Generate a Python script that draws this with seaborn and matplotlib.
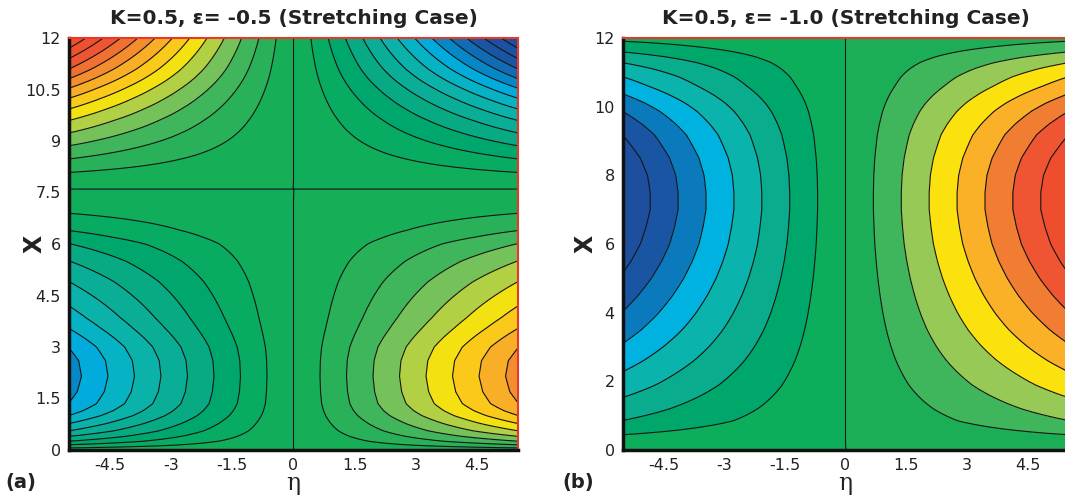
import numpy as np
import matplotlib
matplotlib.use("Agg")
import matplotlib.pyplot as plt
import seaborn as sns
from matplotlib.colors import LinearSegmentedColormap
from matplotlib.ticker import MultipleLocator

# ---------------- data ----------------
# Panel (a): K=0.5, eps=-0.5 -- amplitude profile along X (contour-level units per unit eta)
x_a = [0.0, 0.06, 0.15, 0.26, 0.4, 0.56, 0.77, 1.0, 1.15, 1.35, 1.7, 2.15, 2.6, 3.0,
       3.25, 3.55, 3.85, 4.2, 4.55, 4.9, 5.2, 5.5, 5.75, 6.0, 6.2, 6.4, 6.65, 6.9,
       7.25, 7.6, 7.85, 8.08, 8.47, 8.87, 9.24, 9.6, 9.93, 10.24, 10.53, 10.82,
       11.1, 11.4, 11.7, 12.0]
amp_a = [0.0, 0.18, 0.36, 0.55, 0.73, 0.91, 1.09, 1.27, 1.36, 1.45, 1.51, 1.54, 1.52,
         1.45, 1.37, 1.27, 1.18, 1.09, 1.0, 0.91, 0.82, 0.73, 0.64, 0.55, 0.45, 0.36,
         0.27, 0.18, 0.08, 0.0, -0.09, -0.18, -0.36, -0.55, -0.73, -0.91, -1.09,
         -1.27, -1.45, -1.64, -1.82, -2.0, -2.18, -2.36]
levels_a = list(range(-13, 14))

# Panel (b): K=0.5, eps=-1.0
x_b = [0.0, 0.2, 0.44, 0.85, 1.2, 1.53, 1.9, 2.21, 2.6, 3.04, 3.5, 3.98, 4.5, 5.0,
       5.5, 6.0, 6.5, 7.0, 7.5, 8.0, 8.5, 9.0, 9.18, 9.5, 9.86, 10.1, 10.37, 10.6,
       10.87, 11.1, 11.28, 11.45, 11.6, 11.75, 11.91, 12.0]
amp_b = [0.0, 0.09, 0.18, 0.36, 0.46, 0.545, 0.64, 0.71, 0.8, 0.895, 0.99, 1.08,
         1.17, 1.25, 1.32, 1.38, 1.42, 1.45, 1.45, 1.43, 1.38, 1.3, 1.27, 1.19, 1.09,
         1.01, 0.909, 0.82, 0.727, 0.63, 0.545, 0.45, 0.36, 0.27, 0.18, 0.08]
levels_b = list(range(-8, 9))

eta_range = (-5.5, 5.5)
xticks = [-4.5, -3, -1.5, 0, 1.5, 3, 4.5]
yticks_a = [0, 1.5, 3, 4.5, 6, 7.5, 9, 10.5, 12]
yticks_b = [0, 2, 4, 6, 8, 10, 12]
titles = ["K=0.5, \u03b5= -0.5 (Stretching Case)", "K=0.5, \u03b5= -1.0 (Stretching Case)"]
panel_tags = ["(a)", "(b)"]

# Tecplot-like band colours
band_colors = ["#1d4f9e", "#1a55a3", "#0a79bd", "#00b2e0", "#0ab3ab", "#0aac8f",
               "#00a76b", "#0dae5b", "#1aae57", "#3cb55b", "#92c859", "#fbe30c",
               "#fab426", "#f07f31", "#ef5532", "#ee4e2e"]

# ---------------- style ----------------
sns.set_style("ticks")
plt.rcParams["font.family"] = ["DejaVu Sans"]
plt.rcParams["axes.unicode_minus"] = False

pos = [(i + 0.5) / len(band_colors) for i in range(len(band_colors))]
cmap = LinearSegmentedColormap.from_list(
    "tec", [(0.0, band_colors[0])] + list(zip(pos, band_colors)) + [(1.0, band_colors[-1])])

W, H = 1065, 496
fig = plt.figure(figsize=(W / 100, H / 100), dpi=100)
ax_a = fig.add_axes([69 / W, 46 / H, 449 / W, 412 / H])
ax_b = fig.add_axes([623 / W, 46 / H, 445 / W, 412 / H])

eta = np.linspace(eta_range[0], eta_range[1], 600)

def draw(ax, xs, amp, levels, yticks, yminor, title, tag, right_spine, tag_x, ylab_x):
    field = np.outer(np.asarray(amp), eta)
    ax.contourf(eta, xs, field, levels=levels, cmap=cmap, extend="both",
                vmin=levels[0], vmax=levels[-1])
    ax.contour(eta, xs, field, levels=levels[1:-1], colors="#151515",
               linewidths=0.8, linestyles="solid")
    ax.set_xlim(*eta_range)
    ax.set_ylim(0, 12)
    ax.set_xticks(xticks)
    ax.set_xticklabels([f"{v:g}" for v in xticks])
    ax.set_yticks(yticks)
    ax.set_yticklabels([f"{v:g}" for v in yticks])
    ax.xaxis.set_minor_locator(MultipleLocator(0.3))
    ax.yaxis.set_minor_locator(MultipleLocator(yminor))
    ax.tick_params(which="major", direction="in", length=10, width=2, color="#111111",
                   labelsize=11.5, pad=6, top=False, right=False, labelcolor="#222222")
    ax.tick_params(which="minor", direction="in", length=5, width=1, color="#111111",
                   top=False, right=False)
    for s in ("left", "bottom"):
        ax.spines[s].set_linewidth(2.5)
        ax.spines[s].set_color("#111111")
    for s in ("top", "right"):
        ax.spines[s].set_color("#e8382a")
        ax.spines[s].set_linewidth(1.5)
    ax.spines["right"].set_visible(right_spine)
    ax.set_title(title, fontsize=14.5, fontweight="bold", pad=10, color="#222222")
    ax.set_xlabel("\u03b7", fontsize=17, labelpad=-1, family=["DejaVu Serif"],
                  color="#222222")
    ax.set_ylabel("X", fontsize=17, fontweight="bold", color="#222222")
    ax.yaxis.set_label_coords(ylab_x, 0.5)
    ax.text(tag_x, -0.078, tag, transform=ax.transAxes, fontsize=14,
            fontweight="bold", ha="left", va="center", color="#222222")

draw(ax_a, x_a, amp_a, levels_a, yticks_a, 0.3, titles[0], panel_tags[0], True,
     -0.1425, -0.05)
draw(ax_b, x_b, amp_b, levels_b, yticks_b, 0.4, titles[1], panel_tags[1], False,
     -0.137, -0.058)

fig.savefig("out.png", dpi=100)
